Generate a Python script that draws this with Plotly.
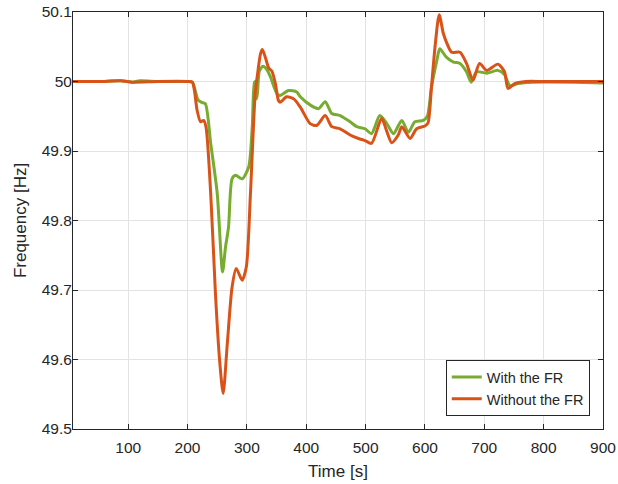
import plotly.graph_objects as go

# With the FR (green)
t_with = [7, 50, 87, 100, 107, 120, 150, 200, 208, 212, 218, 224, 230, 239, 250,
          259, 264, 269, 275, 281, 292, 303, 309, 313, 315.5, 316.5, 318, 321, 327,
          333, 339, 351, 356, 370, 384, 390, 407, 421, 432, 443, 457, 474, 485, 499,
          510, 524, 536, 547, 561, 572, 583, 597, 604, 611, 620, 625, 636, 648, 659,
          670, 678, 687, 704, 723, 734, 743, 757, 780, 850, 900]
f_with = [50.0, 50.0, 50.001, 50.0, 49.999, 50.001, 50.0, 50.0, 49.999, 49.99, 49.973,
          49.97, 49.968, 49.911, 49.839, 49.726, 49.762, 49.79, 49.86, 49.865, 49.86,
          49.877, 49.935, 49.999, 50.0, 49.975, 49.985, 50.015, 50.022, 50.018, 50.008,
          49.982, 49.98, 49.987, 49.985, 49.978, 49.966, 49.961, 49.971, 49.954, 49.951,
          49.942, 49.935, 49.932, 49.925, 49.951, 49.939, 49.925, 49.944, 49.927, 49.942,
          49.944, 49.95, 49.992, 50.03, 50.047, 50.035, 50.028, 50.026, 50.014, 49.999,
          50.014, 50.012, 50.016, 50.01, 49.994, 49.997, 49.999, 49.999, 49.998]

# Without the FR (orange)
t_without = [7, 50, 87, 107, 150, 200, 208, 212, 216, 222, 227, 231, 239, 247, 254,
             260, 267, 275, 282, 292, 299, 306, 314, 318, 323, 326, 331, 337, 342, 348,
             353, 356, 367, 379, 390, 407, 418, 432, 443, 457, 474, 488, 499, 510, 527,
             535, 544, 555, 561, 575, 586, 600, 605, 611, 617, 624, 631, 637, 645, 659,
             670, 681, 692, 704, 723, 734, 740, 751, 770, 800, 900]
f_without = [50.0, 50.0, 50.001, 49.999, 50.0, 50.0, 49.999, 49.985, 49.959, 49.942,
             49.944, 49.935, 49.839, 49.695, 49.599, 49.551, 49.623, 49.704, 49.731,
             49.714, 49.733, 49.839, 49.983, 50.011, 50.04, 50.046, 50.035, 50.019,
             50.015, 49.997, 49.973, 49.97, 49.978, 49.975, 49.963, 49.939, 49.937,
             49.951, 49.935, 49.932, 49.923, 49.918, 49.915, 49.911, 49.947, 49.93,
             49.912, 49.923, 49.935, 49.918, 49.932, 49.936, 49.94, 49.992, 50.05,
             50.096, 50.069, 50.055, 50.042, 50.042, 50.026, 50.002, 50.026, 50.016,
             50.025, 50.014, 49.99, 49.997, 50.0, 50.0, 50.0]

x_ticks = [100, 200, 300, 400, 500, 600, 700, 800, 900]
y_ticks = [49.5, 49.6, 49.7, 49.8, 49.9, 50, 50.1]
y_labels = ['49.5', '49.6', '49.7', '49.8', '49.9', '50', '50.1']

FONT = 'Liberation Sans, Arial, sans-serif'

fig = go.Figure()
fig.add_trace(go.Scatter(
    x=t_with, y=f_with, mode='lines', name='With the FR',
    line=dict(color='#77AC30', width=3, shape='spline', smoothing=0.7)
))
fig.add_trace(go.Scatter(
    x=t_without, y=f_without, mode='lines', name='Without the FR',
    line=dict(color='#D95319', width=3, shape='spline', smoothing=0.7)
))

axis_style = dict(
    showline=True, linecolor='#262626', linewidth=1, mirror='ticks',
    ticks='inside', ticklen=5, tickcolor='#262626',
    showgrid=True, gridcolor='#e3e3e3', gridwidth=1, zeroline=False,
    automargin=False,
    tickfont=dict(family=FONT, size=15.5, color='#262626'),
)

fig.update_xaxes(
    range=[7, 900], tickvals=x_ticks, ticktext=[str(v) for v in x_ticks],
    ticklabelstandoff=4,
    title=dict(text='Time [s]', standoff=10,
               font=dict(family=FONT, size=17, color='#262626')),
    **axis_style
)
fig.update_yaxes(
    range=[49.5, 50.1], tickvals=y_ticks, ticktext=y_labels,
    ticklabelstandoff=-3,
    title=dict(text='Frequency [Hz]', standoff=10,
               font=dict(family=FONT, size=17, color='#262626')),
    **axis_style
)

fig.update_layout(
    width=618, height=484,
    margin=dict(l=73, r=15, t=12, b=55),
    paper_bgcolor='white', plot_bgcolor='white',
    legend=dict(
        x=0.975, y=0.031, xanchor='right', yanchor='bottom',
        bgcolor='white', bordercolor='#262626', borderwidth=1,
        font=dict(family=FONT, size=14.5, color='#262626'),
        tracegroupgap=0,
    ),
    showlegend=True,
)

# drop the browser's default body margin so the figure sits at the top-left corner
fig.write_html("out.html", config={'displayModeBar': False},
               post_script="document.body.style.margin = '0';")
